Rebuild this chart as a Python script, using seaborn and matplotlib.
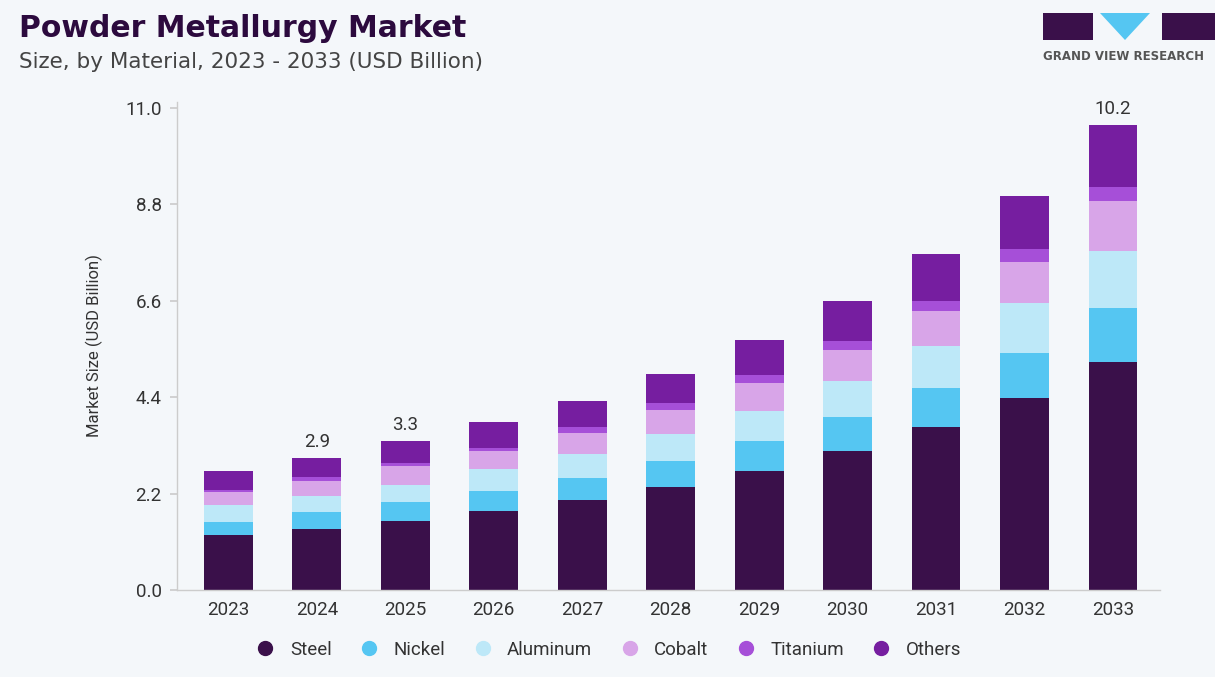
import matplotlib
matplotlib.use("Agg")
import matplotlib.pyplot as plt
import seaborn as sns
import numpy as np
import pandas as pd
from matplotlib.patches import Rectangle, Polygon
from matplotlib.lines import Line2D

years = ["2023", "2024", "2025", "2026", "2027", "2028", "2029", "2030", "2031", "2032", "2033"]
steel    = [1.26, 1.40, 1.57, 1.80, 2.06, 2.35, 2.71, 3.17, 3.71, 4.38, 5.21]
nickel   = [0.29, 0.38, 0.44, 0.47, 0.50, 0.59, 0.68, 0.78, 0.90, 1.03, 1.22]
aluminum = [0.38, 0.36, 0.38, 0.48, 0.55, 0.62, 0.70, 0.82, 0.95, 1.14, 1.31]
cobalt   = [0.30, 0.34, 0.43, 0.42, 0.48, 0.55, 0.63, 0.71, 0.81, 0.94, 1.13]
titanium = [0.05, 0.10, 0.08, 0.08, 0.12, 0.15, 0.18, 0.21, 0.23, 0.28, 0.32]
others   = [0.44, 0.43, 0.50, 0.59, 0.60, 0.67, 0.80, 0.90, 1.07, 1.22, 1.41]
total_labels = ["", "2.9", "3.3", "", "", "", "", "", "", "", "10.2"]
yticks = [0.0, 2.2, 4.4, 6.6, 8.8, 11.0]

series_names = ["Steel", "Nickel", "Aluminum", "Cobalt", "Titanium", "Others"]
series_vals = [steel, nickel, aluminum, cobalt, titanium, others]
colors = ["#3a104a", "#55c6f2", "#bde8f8", "#d8a5e8", "#a64fd8", "#761ea0"]

bg = "#f4f7fa"
sns.set_theme(style="white")
plt.rcParams['font.family'] = ['Roboto', 'DejaVu Sans']

fig = plt.figure(figsize=(12.15, 6.77), dpi=100, facecolor=bg)
ax = fig.add_axes([0.1457, 0.1285, 0.809, 0.7213])
ax.set_facecolor(bg)

cum = np.cumsum(np.array(series_vals), axis=0)
for i in range(len(series_names) - 1, -1, -1):
    df = pd.DataFrame({"year": years, "value": cum[i]})
    sns.barplot(data=df, x="year", y="value", order=years, color=colors[i],
                width=0.55, saturation=1, ax=ax, linewidth=0)

for j, lab in enumerate(total_labels):
    if lab:
        ax.text(j, cum[-1][j] + 0.17, lab, ha="center", va="bottom",
                fontsize=13.5, color="#333333")

ax.set_xlim(-0.58, 10.53)
ax.set_ylim(0, 11.14)
ax.set_yticks(yticks)
ax.set_yticklabels([f"{t:.1f}" for t in yticks])
ax.tick_params(axis="y", labelsize=13.5, labelcolor="#333333", length=5,
               color="#cccccc", pad=6, left=True)
ax.tick_params(axis="x", labelsize=13.5, labelcolor="#333333", length=0, pad=8)
ax.set_xlabel("")
ax.set_ylabel("Market Size (USD Billion)", fontsize=12, color="#333333", labelpad=16)
for s in ["top", "right"]:
    ax.spines[s].set_visible(False)
for s in ["left", "bottom"]:
    ax.spines[s].set_color("#cccccc")
    ax.spines[s].set_linewidth(1)

handles = [Line2D([0], [0], marker="o", linestyle="", markersize=10,
                  markerfacecolor=c, markeredgecolor=c) for c in colors]
fig.legend(handles, series_names, loc="center", bbox_to_anchor=(0.497, 0.04),
           ncol=6, frameon=False, fontsize=13.5, handletextpad=0.3,
           columnspacing=1.0, labelcolor="#333333")

fig.text(0.016, 0.958, "Powder Metallurgy Market", fontsize=21.5, fontweight="heavy",
         family="DejaVu Sans", color="#2c0a3e", ha="left", va="center")
fig.text(0.016, 0.908, "Size, by Material, 2023 - 2033 (USD Billion)", fontsize=15.5,
         family="DejaVu Sans", color="#444444", ha="left", va="center")

# logo
def px(x, y):
    return (x / 1215, 1 - y / 677)
fig.patches.append(Rectangle(px(1043, 40), 50 / 1215, 27 / 677, transform=fig.transFigure,
                             facecolor="#3a104a", edgecolor="none"))
fig.patches.append(Polygon([px(1100, 13), px(1150, 13), px(1125, 40)], closed=True,
                           transform=fig.transFigure, facecolor="#55c6f2", edgecolor="none"))
fig.patches.append(Rectangle(px(1162, 40), 53 / 1215, 27 / 677, transform=fig.transFigure,
                             facecolor="#3a104a", edgecolor="none"))
fig.text(1043 / 1215, 1 - 57 / 677, "GRAND VIEW RESEARCH", fontsize=8.5, fontweight="bold",
         family="DejaVu Sans", color="#555555", ha="left", va="center")

fig.savefig("out.png", dpi=100, facecolor=bg)
